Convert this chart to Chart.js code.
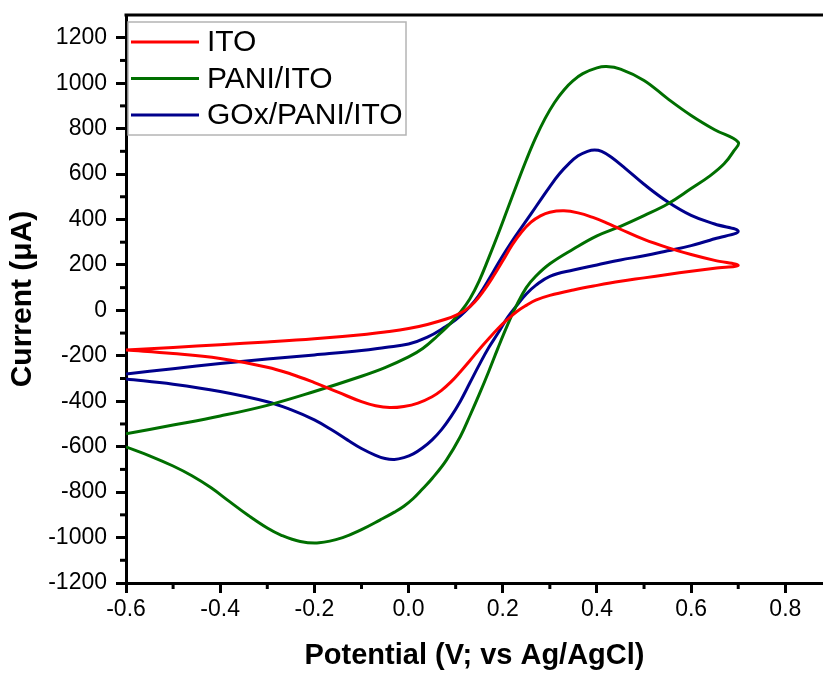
<!DOCTYPE html>
<html>
<head>
<meta charset="utf-8">
<script src="https://cdn.jsdelivr.net/npm/chart.js@4/dist/chart.umd.min.js"></script>
<style>
  html, body { margin: 0; padding: 0; background: #fff; }
  canvas { display: block; }
</style>
</head>
<body>
<canvas id="c" width="823" height="673"></canvas>
<script>
// ---- Data ----
const seriesLabels = ['ITO', 'PANI/ITO', 'GOx/PANI/ITO'];
const seriesColors = ['#ff0000', '#006f00', '#00008c'];

// ITO: forward (anodic) scan, then reverse scan
const itoV = [-0.6,-0.5,-0.4,-0.3,-0.2,-0.1,-0.05,0,0.04,0.08,0.1,0.12,0.14,0.16,0.18,0.2,0.22,0.24,0.26,0.28,0.3,0.33,0.36,0.39,0.42,0.45,0.5,0.55,0.6,0.65,0.7,
              0.65,0.6,0.55,0.5,0.45,0.4,0.35,0.3,0.27,0.25,0.23,0.21,0.19,0.17,0.15,0.13,0.11,0.09,0.07,0.05,0.02,-0.01,-0.04,-0.07,-0.1,-0.15,-0.2,-0.25,-0.3,-0.4,-0.5,-0.6];
const itoI = [-175,-163,-151,-139,-125,-107,-95,-80,-62,-38,-22,0,36,88,150,218,288,345,388,416,432,438,429,410,385,357,312,276,246,220,198,
              185,172,158,143,128,110,90,66,45,22,-5,-40,-80,-125,-172,-222,-270,-315,-352,-380,-408,-423,-428,-420,-402,-360,-318,-280,-250,-212,-190,-175];

// PANI/ITO
const paniV = [-0.6,-0.5,-0.4,-0.3,-0.2,-0.1,-0.05,0,0.03,0.06,0.09,0.11,0.13,0.15,0.17,0.19,0.21,0.23,0.25,0.27,0.29,0.31,0.33,0.35,0.37,0.4,0.42,0.45,0.5,0.55,0.6,0.65,0.7,
               0.69,0.67,0.64,0.6,0.55,0.5,0.45,0.4,0.35,0.3,0.27,0.25,0.23,0.21,0.19,0.17,0.15,0.13,0.11,0.08,0.05,0.03,0.01,-0.01,-0.03,-0.06,-0.1,-0.14,-0.19,-0.23,-0.27,-0.3,-0.34,-0.38,-0.42,-0.46,-0.5,-0.55,-0.6];
const paniI = [-543,-505,-465,-418,-357,-290,-252,-205,-168,-115,-55,-8,50,130,230,335,445,555,662,760,845,915,970,1012,1042,1067,1073,1062,1012,932,858,795,740,
               700,645,592,536,468,417,370,328,270,205,150,100,25,-65,-165,-270,-370,-465,-555,-660,-740,-785,-828,-862,-888,-922,-965,-1000,-1023,-1017,-990,-958,-903,-842,-780,-728,-685,-640,-601];

// GOx/PANI/ITO
const goxV = [-0.6,-0.5,-0.4,-0.3,-0.2,-0.1,-0.05,0,0.04,0.08,0.1,0.12,0.14,0.16,0.18,0.2,0.22,0.24,0.26,0.28,0.3,0.32,0.34,0.36,0.38,0.395,0.41,0.43,0.46,0.5,0.55,0.6,0.65,0.7,
              0.65,0.6,0.55,0.5,0.45,0.4,0.35,0.3,0.27,0.25,0.23,0.21,0.19,0.17,0.15,0.13,0.11,0.09,0.07,0.05,0.03,0.01,-0.01,-0.03,-0.05,-0.07,-0.1,-0.13,-0.16,-0.2,-0.25,-0.3,-0.4,-0.5,-0.6];
const goxI = [-280,-257,-234,-214,-196,-177,-163,-148,-118,-70,-42,-5,40,100,170,240,305,365,425,485,545,600,645,680,700,706,700,675,625,555,478,418,380,348,
              315,285,262,240,222,200,178,150,110,72,22,-32,-100,-165,-240,-320,-400,-468,-525,-570,-605,-632,-648,-656,-652,-638,-608,-570,-530,-482,-437,-402,-357,-325,-302];

// Axis ticks
const xMajorTicks = [-0.6,-0.4,-0.2,0.0,0.2,0.4,0.6,0.8];
const xMinorTicks = [-0.5,-0.3,-0.1,0.1,0.3,0.5,0.7];
const yMajorTicks = [-1200,-1000,-800,-600,-400,-200,0,200,400,600,800,1000,1200];
const yMinorTicks = [-1100,-900,-700,-500,-300,-100,100,300,500,700,900,1100];

const FONT = "'Liberation Sans', Arial, sans-serif";

function pts(v, i) { return v.map((x, k) => ({ x: x, y: i[k] })); }

const datasets = [
  { label: seriesLabels[0], data: pts(itoV, itoI) },
  { label: seriesLabels[1], data: pts(paniV, paniI) },
  { label: seriesLabels[2], data: pts(goxV, goxI) }
].map((d, k) => Object.assign(d, {
  borderColor: seriesColors[k],
  backgroundColor: seriesColors[k],
  borderWidth: 3,
  showLine: true,
  pointRadius: 0,
  tension: 0.4,
  fill: false
}));

const extrasPlugin = {
  id: 'extras',
  afterDraw(chart) {
    const ctx = chart.ctx;
    const a = chart.chartArea;
    const xs = chart.scales.x, ys = chart.scales.y;
    ctx.save();
    // top frame line
    ctx.strokeStyle = '#000';
    ctx.lineWidth = 3;
    ctx.beginPath();
    ctx.moveTo(a.left - 1.5, a.top);
    ctx.lineTo(a.right, a.top);
    ctx.stroke();
    // minor ticks
    xMinorTicks.forEach(v => {
      const px = xs.getPixelForValue(v);
      ctx.beginPath(); ctx.moveTo(px, a.bottom); ctx.lineTo(px, a.bottom + 6); ctx.stroke();
    });
    yMinorTicks.forEach(v => {
      const py = ys.getPixelForValue(v);
      ctx.beginPath(); ctx.moveTo(a.left, py); ctx.lineTo(a.left - 6, py); ctx.stroke();
    });
    // legend
    const lx = a.left + 2, ly = 22, lw = 278, lh = 113;
    ctx.fillStyle = '#fff';
    ctx.fillRect(lx, ly, lw, lh);
    ctx.strokeStyle = '#b4b4b4';
    ctx.lineWidth = 1.5;
    ctx.strokeRect(lx, ly, lw, lh);
    ctx.font = '30px ' + FONT;
    ctx.textBaseline = 'middle';
    ctx.textAlign = 'left';
    chart.data.datasets.forEach((d, k) => {
      const yy = 42 + k * 36.5;
      ctx.strokeStyle = d.borderColor;
      ctx.lineWidth = 3;
      ctx.beginPath(); ctx.moveTo(131, yy); ctx.lineTo(199, yy); ctx.stroke();
      ctx.fillStyle = '#000';
      ctx.fillText(d.label, 207, yy + 1);
    });
    ctx.restore();
  }
};

new Chart(document.getElementById('c'), {
  type: 'scatter',
  data: { datasets: datasets },
  options: {
    responsive: false,
    animation: false,
    devicePixelRatio: 1,
    layout: { padding: { top: 15, right: 0, left: 0, bottom: 0 } },
    plugins: { legend: { display: false }, tooltip: { enabled: false } },
    scales: {
      x: {
        type: 'linear',
        position: 'bottom',
        min: -0.6,
        max: 0.88,
        afterBuildTicks: s => { s.ticks = xMajorTicks.map(v => ({ value: v })); },
        afterFit: s => { s.height = 90; s.paddingLeft = 0; s.paddingRight = 0; },
        ticks: {
          color: '#000',
          font: { family: FONT, size: 23 },
          padding: 3,
          maxRotation: 0,
          autoSkip: false,
          callback: v => Number(v).toFixed(1)
        },
        grid: { display: true, drawOnChartArea: false, drawTicks: true, tickLength: 10, tickWidth: 3, tickColor: '#000' },
        border: { display: true, color: '#000', width: 3 },
        title: {
          display: true,
          text: 'Potential (V; vs Ag/AgCl)',
          color: '#000',
          font: { family: FONT, size: 29, weight: 'bold' },
          padding: { top: 0, bottom: 0 }
        }
      },
      y: {
        type: 'linear',
        position: 'left',
        min: -1200,
        max: 1300,
        afterBuildTicks: s => { s.ticks = yMajorTicks.map(v => ({ value: v })); },
        afterFit: s => { s.width = 126; s.paddingTop = 0; s.paddingBottom = 0; },
        ticks: {
          color: '#000',
          font: { family: FONT, size: 23 },
          padding: 9,
          autoSkip: false,
          callback: v => String(v)
        },
        grid: { display: true, drawOnChartArea: false, drawTicks: true, tickLength: 10, tickWidth: 3, tickColor: '#000' },
        border: { display: true, color: '#000', width: 3 },
        title: {
          display: true,
          text: 'Current (μA)',
          color: '#000',
          font: { family: FONT, size: 30, weight: 'bold' },
          padding: { top: 5, bottom: 0 }
        }
      }
    }
  },
  plugins: [extrasPlugin]
});
</script>
</body>
</html>
